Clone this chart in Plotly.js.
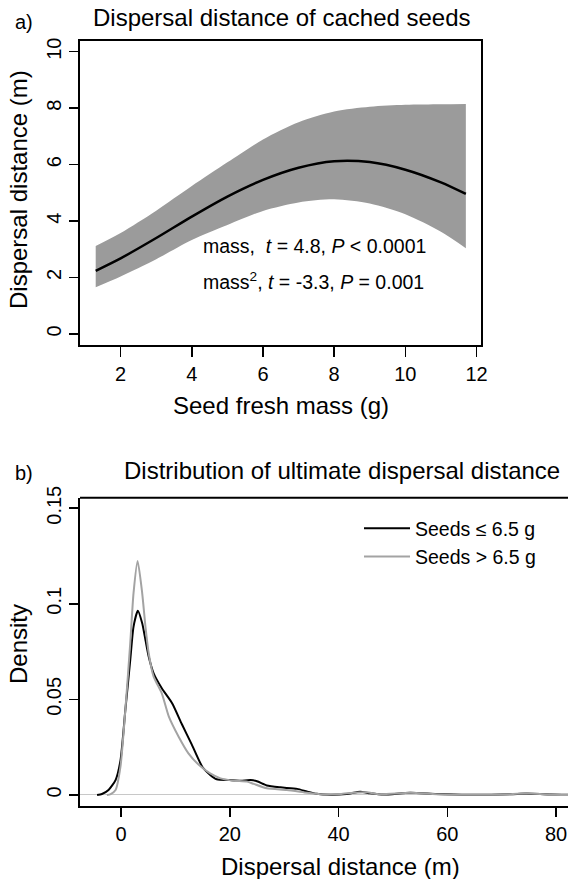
<!DOCTYPE html>
<html>
<head>
<meta charset="utf-8">
<script src="https://cdn.plot.ly/plotly-3.0.1.min.js"></script>
<style>html,body{margin:0;padding:0;overflow:hidden;background:#fff}</style>
</head>
<body>
<div id="chart" style="width:568px;height:879px"></div>
<script>
// Panel a) fitted dispersal distance vs seed mass
const massX = [1.3, 2, 3, 4, 5, 6, 7, 8, 9, 10, 11, 11.7];
const fitY = [2.24, 2.68, 3.40, 4.16, 4.87, 5.46, 5.89, 6.12, 6.09, 5.82, 5.37, 4.96];
const upperY = [3.12, 3.58, 4.37, 5.24, 6.08, 6.89, 7.50, 7.88, 8.05, 8.12, 8.14, 8.15];
const lowerY = [1.66, 2.04, 2.65, 3.33, 3.86, 4.36, 4.66, 4.77, 4.62, 4.24, 3.62, 3.04];

// Panel b) density of ultimate dispersal distance
const smallX = [-4.4, -3.5, -2.3, -1.0, -0.1, 0.8, 1.7, 2.3, 3.1, 3.9, 4.5, 5.1, 6.0, 7.5, 9.4, 11.2, 13.0, 15.0, 16.4, 17.6, 20, 22, 23.8, 25, 26.8, 29.3, 32.4, 34.2, 36, 38.5, 41.5, 44, 45.8, 48.3, 53.2, 58, 64, 71.6, 74.6, 79, 85];
const smallY = [0, 0.0005, 0.0026, 0.0078, 0.018, 0.0445, 0.0706, 0.088, 0.0964, 0.0898, 0.081, 0.0723, 0.0636, 0.0558, 0.048, 0.037, 0.0265, 0.0145, 0.0105, 0.0082, 0.0078, 0.0075, 0.0078, 0.0072, 0.005, 0.004, 0.0032, 0.0018, 0.0006, 0.0001, 0.0005, 0.0017, 0.0009, 0.0002, 0.0012, 0.0005, 0.0001, 0.0004, 0.0008, 0.0002, 0];
const largeX = [-2.6, -1.9, -1.0, -0.1, 0.8, 1.7, 2.3, 3.06, 3.9, 4.5, 5.1, 6.0, 7.5, 8.8, 10.6, 12.4, 14.3, 16.4, 18.3, 20.7, 23.2, 24.4, 26.8, 30.5, 34.2, 36.6, 40.3, 42.7, 45.2, 47.6, 53.2, 58, 64, 71.6, 74.6, 79, 85];
const largeY = [0, 0.0005, 0.0026, 0.0148, 0.0445, 0.0795, 0.1055, 0.1224, 0.1055, 0.088, 0.074, 0.0619, 0.0532, 0.041, 0.0305, 0.0218, 0.0158, 0.0113, 0.0087, 0.0075, 0.007, 0.0058, 0.0035, 0.0026, 0.0012, 0.0004, 0.0005, 0.0012, 0.0014, 0.0004, 0.0012, 0.0004, 0.0001, 0.0004, 0.0009, 0.0001, 0];

const legendNames = ['Seeds \u2264 6.5 g', 'Seeds > 6.5 g'];
const xTicksA = [2, 4, 6, 8, 10, 12];
const yTicksA = [0, 2, 4, 6, 8, 10];
const xTicksB = [0, 20, 40, 60, 80];
const yTicksB = [0, 0.05, 0.1, 0.15];
const yTickTextB = ['0', '0.05', '0.1', '0.15'];

const FONT = 'Liberation Sans, Arial, Helvetica, sans-serif';
const W = 568, H = 879, ML = 80;
const px = v => (v - ML) / (W - ML);
const py = v => 1 - v / H;

const traces = [
  {x: massX, y: upperY, type: 'scatter', mode: 'lines', line: {width: 0, shape: 'spline', smoothing: 0.8}, hoverinfo: 'skip', showlegend: false, xaxis: 'x', yaxis: 'y'},
  {x: massX, y: lowerY, type: 'scatter', mode: 'lines', line: {width: 0, shape: 'spline', smoothing: 0.8}, fill: 'tonexty', fillcolor: '#9b9b9b', hoverinfo: 'skip', showlegend: false, xaxis: 'x', yaxis: 'y'},
  {x: massX, y: fitY, type: 'scatter', mode: 'lines', line: {color: '#000', width: 2.5, shape: 'spline', smoothing: 0.8}, showlegend: false, xaxis: 'x', yaxis: 'y'},
  {x: smallX, y: smallY, type: 'scatter', mode: 'lines', name: legendNames[0], line: {color: '#000', width: 2, shape: 'spline', smoothing: 0.6}, xaxis: 'x2', yaxis: 'y2'},
  {x: largeX, y: largeY, type: 'scatter', mode: 'lines', name: legendNames[1], line: {color: '#a3a3a3', width: 2, shape: 'spline', smoothing: 0.6}, xaxis: 'x2', yaxis: 'y2'}
];

const axisCommon = {
  showgrid: false, ticks: 'outside', ticklen: 9.5, tickwidth: 1.5, tickcolor: '#000',
  showline: true, linecolor: '#000', linewidth: 2,
  tickfont: {family: FONT, size: 20, color: '#000'}, fixedrange: true
};

const layout = {
  width: W, height: H,
  margin: {l: ML, r: 0, t: 0, b: 0, pad: 0},
  paper_bgcolor: '#fff', plot_bgcolor: '#fff',
  font: {family: FONT, color: '#000'},
  showlegend: true,
  legend: {x: px(359), y: py(509), xanchor: 'left', yanchor: 'top', bgcolor: 'rgba(0,0,0,0)', traceorder: 'normal',
           font: {family: FONT, size: 19.5, color: '#000'}, itemwidth: 46},
  xaxis: Object.assign({}, axisCommon, {domain: [px(80.4), px(480.8)], range: [0.87, 12.12], tickvals: xTicksA, mirror: true, zeroline: false, anchor: 'y'}),
  yaxis: Object.assign({}, axisCommon, {domain: [py(345), py(40.7)], range: [-0.39, 10.39], tickvals: yTicksA, tickangle: -90, mirror: true, zeroline: false, anchor: 'x'}),
  xaxis2: Object.assign({}, axisCommon, {domain: [0, 1], range: [-7.54, 82.2], tickvals: xTicksB, zeroline: false, anchor: 'y2'}),
  yaxis2: Object.assign({}, axisCommon, {domain: [py(805.7), py(497.7)], range: [-0.0056, 0.1555], tickvals: yTicksB, ticktext: yTickTextB, tickangle: -90, zeroline: true, zerolinecolor: '#c8c8c8', zerolinewidth: 1, anchor: 'x2'}),
  shapes: [
    {type: 'line', xref: 'x2 domain', yref: 'y2 domain', x0: 0, x1: 1, y0: 1, y1: 1, line: {color: '#000', width: 2}}
  ],
  annotations: [
    {text: 'a)', x: px(23.5), y: py(22), xref: 'paper', yref: 'paper', showarrow: false, xanchor: 'center', yanchor: 'middle', font: {size: 20}},
    {text: 'Dispersal distance of cached seeds', x: px(282), y: py(18), xref: 'paper', yref: 'paper', showarrow: false, xanchor: 'center', yanchor: 'middle', font: {size: 24}},
    {text: 'Seed fresh mass (g)', x: px(281), y: py(405), xref: 'paper', yref: 'paper', showarrow: false, xanchor: 'center', yanchor: 'middle', font: {size: 24}},
    {text: 'Dispersal distance (m)', x: px(18), y: py(190), xref: 'paper', yref: 'paper', showarrow: false, xanchor: 'center', yanchor: 'middle', textangle: -90, font: {size: 24}},
    {text: 'mass,  <i>t</i> = 4.8, <i>P</i> < 0.0001', x: 4.25, y: 3.10, xref: 'x', yref: 'y', showarrow: false, xanchor: 'left', yanchor: 'middle', font: {size: 19.5}},
    {text: 'mass<sup>2</sup>, <i>t</i> = -3.3, <i>P</i> = 0.001', x: 4.25, y: 1.885, xref: 'x', yref: 'y', showarrow: false, xanchor: 'left', yanchor: 'middle', font: {size: 19.5}},
    {text: 'b)', x: px(23.5), y: py(473), xref: 'paper', yref: 'paper', showarrow: false, xanchor: 'center', yanchor: 'middle', font: {size: 20}},
    {text: 'Distribution of ultimate dispersal distance', x: px(342), y: py(470), xref: 'paper', yref: 'paper', showarrow: false, xanchor: 'center', yanchor: 'middle', font: {size: 24}},
    {text: 'Dispersal distance (m)', x: px(340.6), y: py(866.7), xref: 'paper', yref: 'paper', showarrow: false, xanchor: 'center', yanchor: 'middle', font: {size: 24}},
    {text: 'Density', x: px(18), y: py(644), xref: 'paper', yref: 'paper', showarrow: false, xanchor: 'center', yanchor: 'middle', textangle: -90, font: {size: 24}}
  ]
};

Plotly.newPlot('chart', traces, layout, {staticPlot: true, displayModeBar: false});
</script>
</body>
</html>
